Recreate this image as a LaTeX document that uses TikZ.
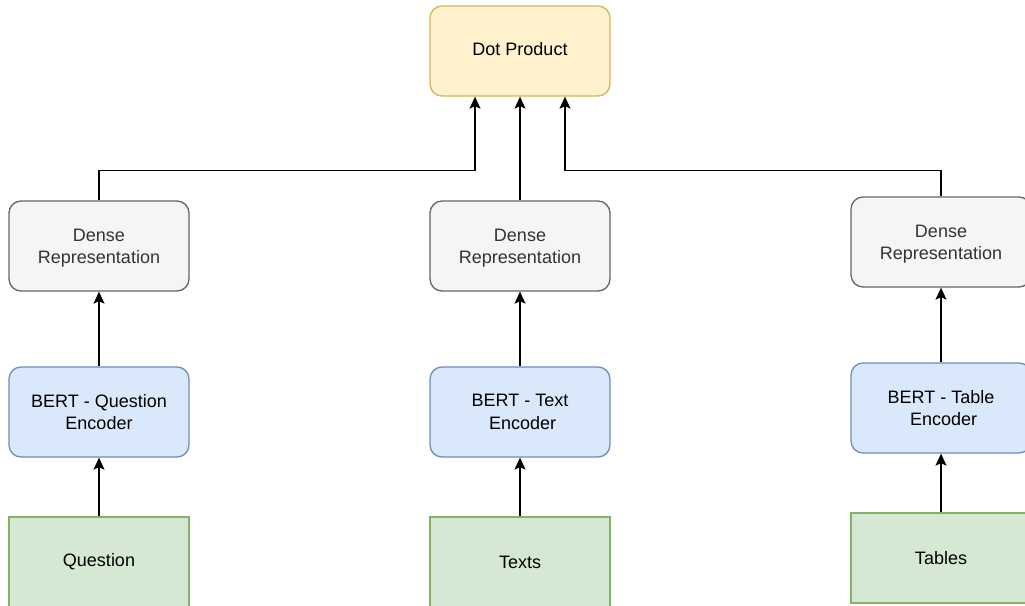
\documentclass[tikz,border=0pt]{standalone}
\usepackage{fontspec}
\setmainfont{Liberation Sans}
\usetikzlibrary{arrows.meta}
\definecolor{dotfill}{HTML}{FFF2CC}\definecolor{dotline}{HTML}{D6B656}
\definecolor{densefill}{HTML}{F5F5F5}\definecolor{denseline}{HTML}{666666}\definecolor{densetext}{HTML}{333333}
\definecolor{bertfill}{HTML}{DAE8FC}\definecolor{bertline}{HTML}{6C8EBF}
\definecolor{srcfill}{HTML}{D5E8D4}\definecolor{srcline}{HTML}{82B366}
\begin{document}
\begin{tikzpicture}[x=1pt,y=-1pt,
  boxfont/.style={align=center,font=\fontsize{18}{22.5}\selectfont},
  box/.style={minimum width=180pt,minimum height=90pt,line width=1.3pt,inner sep=0pt,
    boxfont,anchor=center},
  dotbox/.style={box,rounded corners=12pt,fill=dotfill,draw=dotline,
    label={[boxfont,yshift=2pt]center:Dot Product}},
  densebox/.style={box,rounded corners=12pt,fill=densefill,draw=denseline,
    label={[boxfont,text=densetext,yshift=-2pt]center:{Dense\\Representation}}},
  bertbox/.style={box,rounded corners=12pt,fill=bertfill,draw=bertline},
  srcbox/.style={box,fill=srcfill,draw=srcline},
  link/.style={line width=1.3pt,-{Stealth[length=12pt,width=11pt,inset=2.5pt]}}]
\useasboundingbox (0,0) rectangle (1025,605);
% top
\node[dotbox] (dot) at (520,51) {};
% question column
\node[densebox] (dq) at (99,246) {};
\node[bertbox] (bq) at (99,412) {BERT - Question\\Encoder};
\node[srcbox] (sq) at (99,562) {Question};
% text column
\node[densebox] (dt) at (520,246) {};
\node[bertbox] (bt) at (520,412) {BERT - Text\\\hspace*{0.3em}Encoder};
\node[srcbox] (st) at (520,562) {Texts};
% table column
\node[densebox] (db) at (941,242) {};
\node[bertbox] (bb) at (941,408) {BERT - Table\\\hspace*{0.3em}Encoder};
\node[srcbox] (sb) at (941,558) {Tables};
% connectors
\draw[link] (sq) -- (bq);
\draw[link] (bq) -- (dq);
\draw[link] (st) -- (bt);
\draw[link] (bt) -- (dt);
\draw[link] (sb) -- (bb);
\draw[link] (bb) -- (db);
\draw[link] (dt) -- (dot);
\draw[link] (dq.north) -- ++(0,-30) -| ([xshift=-45pt]dot.south);
\draw[link] (db.north) -- ++(0,-26) -| ([xshift=45pt]dot.south);
\end{tikzpicture}
\end{document}
